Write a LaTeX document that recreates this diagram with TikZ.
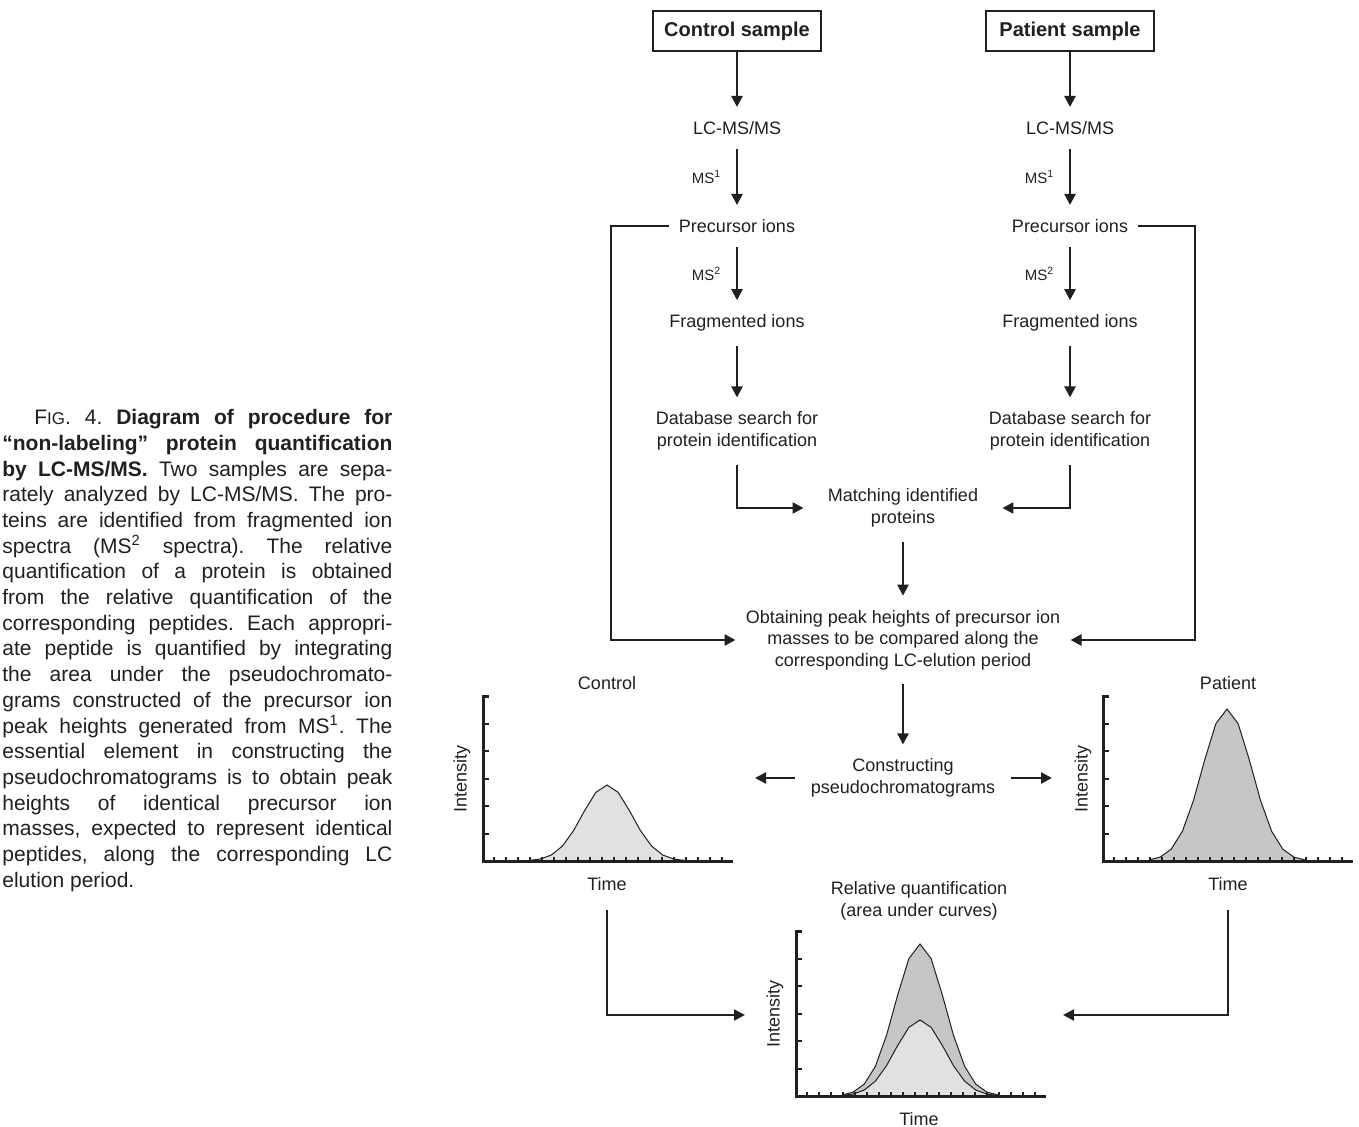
\documentclass[tikz,border=0pt]{standalone}
\usepackage{fontspec}
\setmainfont{Liberation Sans}
\usetikzlibrary{arrows.meta,positioning}
\frenchspacing

\definecolor{ink}{RGB}{35,31,32}
\definecolor{ctrlfill}{RGB}{224,225,227}
\definecolor{patfill}{RGB}{197,198,200}

\tikzset{
  arr/.style={-{Triangle[length=5.5pt,width=5.5pt]}, line width=1.15pt},
  sample/.style={draw, line width=1.4pt, minimum width=84pt, minimum height=20pt, font=\bfseries},
  stage/.style={align=center, inner xsep=5pt, inner ysep=7pt},
  msl/.style={left=4pt, font=\fontsize{7.5}{9}\selectfont},
  axis/.style={line width=1.5pt},
  tick/.style={line width=1pt},
  curve/.style={line width=0.5pt},
}

\begin{document}
\begin{tikzpicture}[x=0.5pt, y=-0.5pt, color=ink, font=\fontsize{9}{10.75}\selectfont]
                \useasboundingbox (0,0) rectangle (1359,1127);

                % caption
                \node[anchor=north west, text width=195pt, align=justify, inner sep=0pt,
                      font=\fontsize{10.5}{12.85}\selectfont] (cap) at (2,409)
                      {\hspace*{16pt}F{\fontsize{8.5}{9}\selectfont IG}. 4.\ \textbf{Diagram of procedure for}\linebreak
                       \textbf{“non-labeling” protein quantification}\linebreak
                       \textbf{by LC-MS/MS.} Two samples are sepa-\linebreak
                       rately analyzed by LC-MS/MS. The pro-\linebreak
                       teins are identified from fragmented ion\linebreak
                       spectra (MS\textsuperscript{2} spectra). The relative\linebreak
                       quantification of a protein is obtained\linebreak
                       from the relative quantification of the\linebreak
                       corresponding peptides. Each appropri-\linebreak
                       ate peptide is quantified by integrating\linebreak
                       the area under the pseudochromato-\linebreak
                       grams constructed of the precursor ion\linebreak
                       peak heights generated from MS\textsuperscript{1}. The\linebreak
                       essential element in constructing the\linebreak
                       pseudochromatograms is to obtain peak\linebreak
                       heights of identical precursor ion\linebreak
                       masses, expected to represent identical\linebreak
                       peptides, along the corresponding LC\linebreak
                       elution period.};

                % two sample columns
                \node[sample] (ctrl) at (737,31) {Control sample};
                \node[sample] (pat) at (1070,31) {Patient sample};
                \node[stage] (lcL) at (737,128) {LC-MS/MS};
                \node[stage] (lcR) at (1070,128) {LC-MS/MS};
                \node[stage] (precL) at (737,226) {Precursor ions};
                \node[stage] (precR) at (1070,226) {Precursor ions};
                \node[stage] (fragL) at (737,323) {Fragmented ions};
                \node[stage] (fragR) at (1070,323) {Fragmented ions};
                \node[stage] (dbL) at (737,431) {Database search for\\protein identification};
                \node[stage] (dbR) at (1070,431) {Database search for\\protein identification};

                % common steps
                \node[stage, inner xsep=12pt] (match) at (903,508) {Matching identified\\proteins};
                \node[stage] (obtain) at (903,640) {Obtaining peak heights of precursor ion\\masses to be compared along the\\corresponding LC-elution period};
                \node[stage, inner xsep=8pt] (constr) at (903,778) {Constructing\\pseudochromatograms};

                \draw[arr] (ctrl) -- (lcL);
                \draw[arr] (pat) -- (lcR);
                \draw[arr] (lcL) -- node[msl] {MS\textsuperscript{1}} (precL);
                \draw[arr] (lcR) -- node[msl] {MS\textsuperscript{1}} (precR);
                \draw[arr] (precL) -- node[msl] {MS\textsuperscript{2}} (fragL);
                \draw[arr] (precR) -- node[msl] {MS\textsuperscript{2}} (fragR);
                \draw[arr] (fragL) -- (dbL);
                \draw[arr] (fragR) -- (dbR);
                \draw[arr] (dbL) |- (match);
                \draw[arr] (dbR) |- (match);
                \draw[arr] (match) -- (obtain);
                \draw[arr] (obtain) -- (constr);

                \coordinate (brL) at (611,226);
                \coordinate (brR) at (1195,226);
                \draw[arr] (precL) -- (brL) |- (obtain);
                \draw[arr] (precR) -- (brR) |- (obtain);

                \coordinate (toA) at (755,778);
                \coordinate (toB) at (1052,778);
                \draw[arr] (constr) -- (toA);
                \draw[arr] (constr) -- (toB);

                % control chart
                \node (ctrlT) at (607,683) {Control};
                \node[rotate=90] (intA) at (462,779) {Intensity};
                \node (timeA) at (607,884) {Time};
                \begin{scope}[shift={(483,861)}, yscale=-1]
                    \fill[ctrlfill] plot[domain=-78:78, samples=15] ({124+\x},{76*exp(-((\x)^2)/1220)}) -- cycle;
                    \draw[curve] plot[domain=-78:78, samples=15] ({124+\x},{76*exp(-((\x)^2)/1220)});
                    \draw[axis] (250,0) -- (0,0) -- (0,165) -- (6,165);
                    \foreach \t in {27.5,55,...,137.5} \draw[tick] (0,\t) -- (6,\t);
                    \foreach \t in {11,23,...,247} \draw[tick] (\t,0) -- (\t,4);
                \end{scope}

                % patient chart
                \node (patT) at (1228,683) {Patient};
                \node[rotate=90] (intB) at (1083,779) {Intensity};
                \node (timeB) at (1228,884) {Time};
                \begin{scope}[shift={(1103,861)}, yscale=-1]
                    \fill[patfill] plot[domain=-78:78, samples=15] ({124+\x},{152*exp(-((\x)^2)/1220)}) -- cycle;
                    \draw[curve] plot[domain=-78:78, samples=15] ({124+\x},{152*exp(-((\x)^2)/1220)});
                    \draw[axis] (250,0) -- (0,0) -- (0,165) -- (6,165);
                    \foreach \t in {27.5,55,...,137.5} \draw[tick] (0,\t) -- (6,\t);
                    \foreach \t in {11,23,...,247} \draw[tick] (\t,0) -- (\t,4);
                \end{scope}

                % comparison chart
                \node[align=center] (relT) at (919,901) {Relative quantification\\(area under curves)};
                \node[rotate=90] (intC) at (775,1014) {Intensity};
                \node (timeC) at (919,1119) {Time};
                \begin{scope}[shift={(796,1096)}, yscale=-1]
                    \fill[patfill] plot[domain=-78:78, samples=15] ({124+\x},{152*exp(-((\x)^2)/1220)}) -- cycle;
                    \fill[ctrlfill] plot[domain=-78:78, samples=15] ({124+\x},{76*exp(-((\x)^2)/1220)}) -- cycle;
                    \draw[curve] plot[domain=-78:78, samples=15] ({124+\x},{152*exp(-((\x)^2)/1220)});
                    \draw[curve] plot[domain=-78:78, samples=15] ({124+\x},{76*exp(-((\x)^2)/1220)});
                    \draw[axis] (250,0) -- (0,0) -- (0,165) -- (6,165);
                    \foreach \t in {27.5,55,...,137.5} \draw[tick] (0,\t) -- (6,\t);
                    \foreach \t in {11,23,...,247} \draw[tick] (\t,0) -- (\t,4);
                \end{scope}

                \coordinate (inL) at (745,1015);
                \coordinate (inR) at (1063,1015);
                \draw[arr, shorten <=6pt] (timeA) |- (inL);
                \draw[arr, shorten <=6pt] (timeB) |- (inR);
\end{tikzpicture}
\end{document}
